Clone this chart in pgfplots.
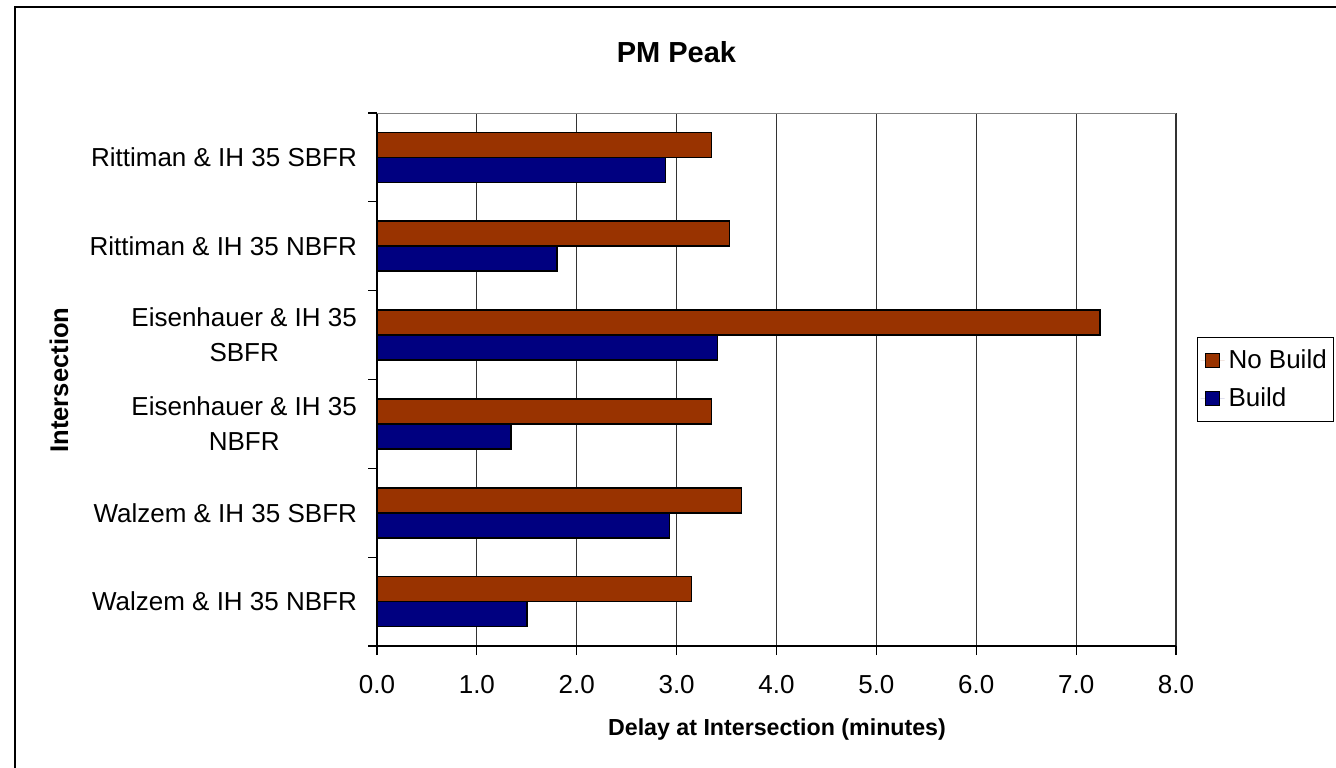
\documentclass[border=0pt]{standalone}
\usepackage{pgfplots}
\pgfplotsset{compat=1.18}
\usepackage{pgfplotstable}
\usepackage{fontspec}
\setmainfont{Liberation Sans}
\definecolor{nobuild}{HTML}{993300}
\definecolor{build}{HTML}{000080}
\pgfplotstableread{
y nobuild build
0 3.15 1.50
1 3.65 2.93
2 3.35 1.34
3 7.24 3.41
4 3.53 1.80
5 3.35 2.89
}\datatable
\begin{document}
\begin{tikzpicture}
\useasboundingbox (0,0) rectangle (668pt,-383.5pt);
\draw[line width=1pt] (7.5pt,-420pt) -- (7.5pt,-3.5pt) -- (720pt,-3.5pt);
\begin{axis}[
  at={(188.5pt,-323pt)}, anchor=south west,
  scale only axis, width=399.5pt, height=266.5pt,
  xbar, bar width=12.5pt,
  xmin=0, xmax=8, ymin=-0.5, ymax=5.5,
  xtick={0,1,...,8},
  xticklabel style={/pgf/number format/.cd, fixed, fixed zerofill, precision=1, /tikz/.cd, font=\fontsize{13}{15}\selectfont, yshift=-6.5pt},
  /pgf/number format/assume math mode=true,
  ytick={0,1,2,3,4,5},
  yticklabels={{Walzem \& IH 35 NBFR},{Walzem \& IH 35 SBFR},{Eisenhauer \& IH 35\\NBFR},{Eisenhauer \& IH 35\\SBFR},{Rittiman \& IH 35 NBFR},{Rittiman \& IH 35 SBFR}},
  yticklabel style={align=center, font=\fontsize{13}{17.5}\selectfont, xshift=-2pt},
  minor ytick={-0.5,0.5,...,5.5},
  major y tick style={draw=none},
  tick align=outside,
  major tick length=4.5pt, minor tick length=4.5pt,
  x tick style={black, line width=0.6pt},
  minor y tick style={black, line width=0.6pt},
  xmajorgrids, major x grid style={black!80, line width=0.6pt},
  axis x line*=bottom, axis y line*=left,
  axis line style={black, line width=0.8pt},
  axis line style={-},
  legend style={at={([xshift=10.5pt]1,0.5)}, anchor=west, draw=black, line width=0.5pt,
    font=\fontsize{13}{15}\selectfont, row sep=4pt, inner xsep=1.5pt, inner ysep=4pt,
    cells={anchor=west}},
  legend image code/.code={\path[draw=none] (0pt,0pt) -- (12pt,0pt); \draw[#1, line width=0.6pt] (2.5pt,-3.5pt) rectangle (9.5pt,3.5pt);},
  legend cell align=left,
]
\addplot[fill=nobuild, draw=black, line width=0.8pt, bar shift=6.25pt] table[x=nobuild, y=y] {\datatable};
\addplot[fill=build, draw=black, line width=0.8pt, bar shift=-6.25pt] table[x=build, y=y] {\datatable};
\legend{No Build, Build}
\draw[black!50, line width=0.6pt] (rel axis cs:0,1) -- (rel axis cs:1,1);
\end{axis}
\node[font=\fontsize{14.5}{17}\selectfont\bfseries, anchor=base] at (338.25pt,-31.2pt) {PM Peak};
\node[font=\fontsize{11.6}{14}\selectfont\bfseries, anchor=base] at (388.5pt,-367.5pt) {Delay at Intersection (minutes)};
\node[font=\fontsize{12.8}{15}\selectfont\bfseries, anchor=base, rotate=90] at (34pt,-190pt) {Intersection};
\end{tikzpicture}
\end{document}
